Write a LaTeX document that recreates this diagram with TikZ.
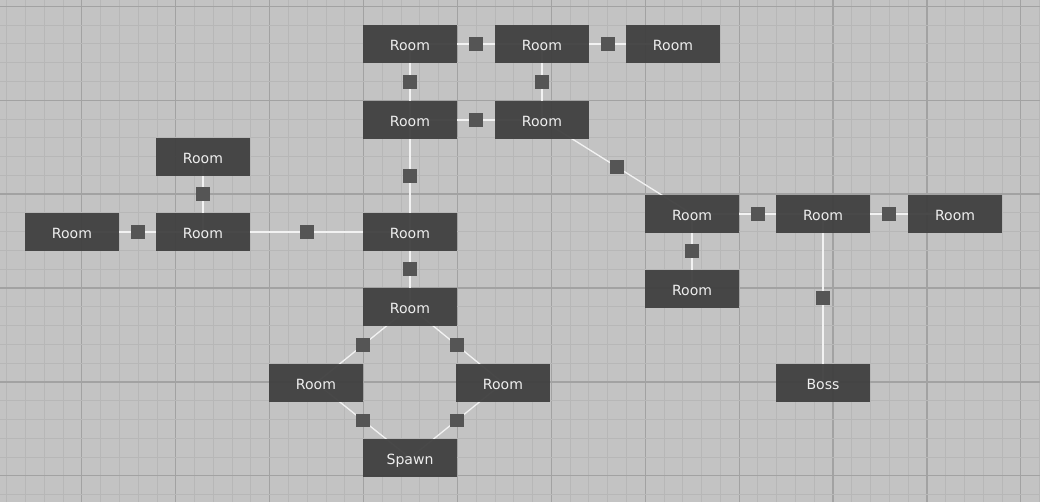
\documentclass[tikz,border=0pt]{standalone}
\usepackage{fontspec}
\usetikzlibrary{backgrounds}
\newfontfamily\roomfont{DejaVu Sans}
\definecolor{floor}{RGB}{195,195,195}
\definecolor{gridminor}{RGB}{183,183,183}
\definecolor{gridmajor}{RGB}{162,162,162}
\definecolor{roomfill}{RGB}{64,64,64}
\definecolor{doorfill}{RGB}{85,85,85}
\definecolor{roomtext}{RGB}{238,238,238}
\definecolor{linkcol}{RGB}{242,242,242}
\pgfdeclarelayer{links}
\pgfsetlayers{background,links,main}
\tikzset{
  room/.style={fill=roomfill, fill opacity=0.95, text opacity=1, text=roomtext,
    minimum width=1.88cm, minimum height=0.752cm, inner sep=0pt,
    text height=7pt, text depth=0pt,
    font=\roomfont\fontsize{8}{9}\selectfont},
  door/.style={fill=doorfill, minimum size=0.28cm, inner sep=0pt},
  link/.style={linkcol, line width=0.75pt}
}

\begin{document}
\begin{tikzpicture}[x=0.02cm, y=-0.02cm]
        \useasboundingbox (0,0) rectangle (1040,502);
        % floor and grid
        \begin{pgfonlayer}{background}
          \fill [floor] (0,0) rectangle (1040,502);
          \foreach \k in {0,...,55} {
            \pgfmathsetmacro{\gx}{6.7+18.78*\k}
            \pgfmathtruncatemacro{\mj}{mod(\k,5)==4}
            \ifnum\mj=1
              \draw [gridmajor, line width=0.7pt] (\gx,0) -- (\gx,502);
            \else
              \draw [gridminor, line width=0.5pt] (\gx,0) -- (\gx,502);
            \fi
          }
          \foreach \k in {0,...,26} {
            \pgfmathsetmacro{\gy}{6.3+18.78*\k}
            \pgfmathtruncatemacro{\mj}{mod(\k,5)==0}
            \ifnum\mj=1
              \draw [gridmajor, line width=0.7pt] (0,\gy) -- (1040,\gy);
            \else
              \draw [gridminor, line width=0.5pt] (0,\gy) -- (1040,\gy);
            \fi
          }
        \end{pgfonlayer}
        % rooms
        \node [room] (nw) at (410,44) {Room};
        \node [room] (n) at (542,44) {Room};
        \node [room] (ne) at (673,44) {Room};
        \node [room] (cw) at (410,120) {Room};
        \node [room] (c) at (542,120) {Room};
        \node [room] (lt) at (203,157) {Room};
        \node [room] (lfar) at (72,232) {Room};
        \node [room] (l) at (203,232) {Room};
        \node [room] (hub) at (410,232) {Room};
        \node [room] (low) at (410,307) {Room};
        \node [room] (sw) at (316,383) {Room};
        \node [room] (se) at (503,383) {Room};
        \node [room] (spawn) at (410,458) {Spawn};
        \node [room] (e) at (692,214) {Room};
        \node [room] (e2) at (823,214) {Room};
        \node [room] (e3) at (955,214) {Room};
        \node [room] (es) at (692,289) {Room};
        \node [room] (boss) at (823,383) {Boss};
        % corridors with doors
        \begin{pgfonlayer}{links}
          \foreach \a/\b [count=\i] in {nw/n, n/ne, nw/cw, n/c, cw/c, cw/hub, c/e,
              lt/l, lfar/l, l/hub, hub/low, low/sw, low/se, sw/spawn, se/spawn,
              e/e2, e2/e3, e/es, e2/boss}
            \draw [link] (\a.center) -- node [door] (d\i) {} (\b.center);
        \end{pgfonlayer}
      \end{tikzpicture}
\end{document}
